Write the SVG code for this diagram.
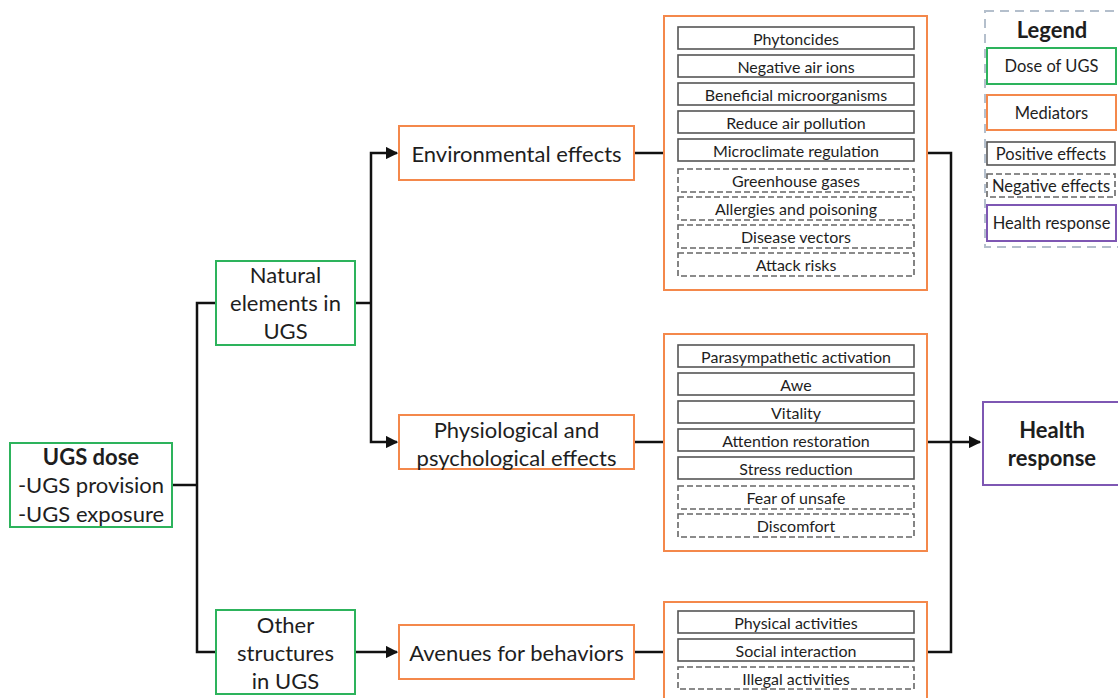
<svg xmlns="http://www.w3.org/2000/svg" width="1118" height="698" viewBox="0 0 1118 698">
  <defs>
    <marker id="arrow" viewBox="0 0 10 10" refX="9" refY="5" markerWidth="5" markerHeight="5" orient="auto" markerUnits="strokeWidth">
      <path d="M0,0 L10,5 L0,10 z" fill="#111"/>
    </marker>
    <style>
      text { font-family: Lato, "Open Sans", "Liberation Sans", sans-serif; fill: #1e1e1e; text-anchor: middle; dominant-baseline: central; }
      .big { font-size: 22px; }
      .small { font-size: 16px; }
      .leg { font-size: 16.5px; }
      .bold { font-weight: bold; }
      .dose { fill: #fff; stroke: #2db35c; stroke-width: 2; }
      .med { fill: #fff; stroke: #f4884b; stroke-width: 2; }
      .health { fill: #fff; stroke: #7e57b3; stroke-width: 2; }
      .pos { fill: #fff; stroke: #555; stroke-width: 1.6; }
      .neg { fill: #fff; stroke: #666; stroke-width: 1.6; stroke-dasharray: 6 3; }
      .wire { fill: none; stroke: #111; stroke-width: 2.5; }
    </style>
  </defs>
  <rect width="1118" height="698" fill="#fff"/>

  <!-- connectors -->
  <g id="connectors">
    <polyline class="wire" points="172,485 197,485"/>
    <polyline class="wire" points="216,303 197,303 197,652 216,652"/>
    <polyline class="wire" points="355,303 371,303"/>
    <polyline class="wire" points="371,303 371,153 397,153" marker-end="url(#arrow)"/>
    <polyline class="wire" points="371,303 371,442 397,442" marker-end="url(#arrow)"/>
    <polyline class="wire" points="355,652 397,652" marker-end="url(#arrow)"/>
    <polyline class="wire" points="634,153 664,153"/>
    <polyline class="wire" points="634,442 664,442"/>
    <polyline class="wire" points="634,652 664,652"/>
    <polyline class="wire" points="927,153 951,153 951,652 927,652"/>
    <polyline class="wire" points="927,442 980,442" marker-end="url(#arrow)"/>
  </g>

  <!-- dose of UGS -->
  <g id="ugs-dose">
    <rect class="dose" x="10" y="443" width="162" height="84"/>
    <text class="big bold" x="91" y="456">UGS dose</text>
    <text class="big" x="91" y="484">-UGS provision</text>
    <text class="big" x="91" y="513">-UGS exposure</text>
  </g>
  <g id="natural-elements">
    <rect class="dose" x="216" y="261" width="139" height="84"/>
    <text class="big" x="285.5" y="274">Natural</text>
    <text class="big" x="285.5" y="302">elements in</text>
    <text class="big" x="285.5" y="330">UGS</text>
  </g>
  <g id="other-structures">
    <rect class="dose" x="216" y="610" width="139" height="84"/>
    <text class="big" x="285.5" y="624">Other</text>
    <text class="big" x="285.5" y="652">structures</text>
    <text class="big" x="285.5" y="680">in UGS</text>
  </g>

  <!-- pathways -->
  <g id="environmental-effects">
    <rect class="med" x="399" y="126" width="235" height="54"/>
    <text class="big" x="516.5" y="153">Environmental effects</text>
  </g>
  <g id="physio-psych-effects">
    <rect class="med" x="399" y="415" width="235" height="54"/>
    <text class="big" x="516.5" y="429">Physiological and</text>
    <text class="big" x="516.5" y="457">psychological effects</text>
  </g>
  <g id="avenues-behaviors">
    <rect class="med" x="399" y="625" width="235" height="54"/>
    <text class="big" x="516.5" y="652">Avenues for behaviors</text>
  </g>

  <!-- environmental mediators -->
  <g id="env-mediators">
    <rect class="med" x="664" y="16" width="263" height="274"/>
    <rect class="pos" x="678" y="27" width="236" height="22"/>
    <text class="small" x="796" y="38">Phytoncides</text>
    <rect class="pos" x="678" y="55" width="236" height="22"/>
    <text class="small" x="796" y="66">Negative air ions</text>
    <rect class="pos" x="678" y="83" width="236" height="22"/>
    <text class="small" x="796" y="94">Beneficial microorganisms</text>
    <rect class="pos" x="678" y="111" width="236" height="22"/>
    <text class="small" x="796" y="122">Reduce air pollution</text>
    <rect class="pos" x="678" y="139" width="236" height="22"/>
    <text class="small" x="796" y="150">Microclimate regulation</text>
    <rect class="neg" x="678" y="169" width="236" height="23"/>
    <text class="small" x="796" y="180.5">Greenhouse gases</text>
    <rect class="neg" x="678" y="197" width="236" height="23"/>
    <text class="small" x="796" y="208.5">Allergies and poisoning</text>
    <rect class="neg" x="678" y="225" width="236" height="23"/>
    <text class="small" x="796" y="236.5">Disease vectors</text>
    <rect class="neg" x="678" y="253" width="236" height="23"/>
    <text class="small" x="796" y="264.5">Attack risks</text>
  </g>

  <!-- physiological / psychological mediators -->
  <g id="physio-mediators">
    <rect class="med" x="664" y="334" width="263" height="217"/>
    <rect class="pos" x="678" y="345" width="236" height="22"/>
    <text class="small" x="796" y="356">Parasympathetic activation</text>
    <rect class="pos" x="678" y="373" width="236" height="22"/>
    <text class="small" x="796" y="384">Awe</text>
    <rect class="pos" x="678" y="401" width="236" height="22"/>
    <text class="small" x="796" y="412">Vitality</text>
    <rect class="pos" x="678" y="429" width="236" height="22"/>
    <text class="small" x="796" y="440">Attention restoration</text>
    <rect class="pos" x="678" y="457" width="236" height="22"/>
    <text class="small" x="796" y="468">Stress reduction</text>
    <rect class="neg" x="678" y="486" width="236" height="23"/>
    <text class="small" x="796" y="497.5">Fear of unsafe</text>
    <rect class="neg" x="678" y="514" width="236" height="23"/>
    <text class="small" x="796" y="525.5">Discomfort</text>
  </g>

  <!-- behavioral mediators -->
  <g id="behavior-mediators">
    <rect class="med" x="664" y="602" width="263" height="104"/>
    <rect class="pos" x="678" y="611" width="236" height="22"/>
    <text class="small" x="796" y="622">Physical activities</text>
    <rect class="pos" x="678" y="639" width="236" height="22"/>
    <text class="small" x="796" y="650">Social interaction</text>
    <rect class="neg" x="678" y="667" width="236" height="22"/>
    <text class="small" x="796" y="678">Illegal activities</text>
  </g>

  <!-- outcome -->
  <g id="health-response">
    <rect class="health" x="983" y="402" width="145" height="83"/>
    <text class="big bold" x="1052" y="429">Health</text>
    <text class="big bold" x="1052" y="457">response</text>
  </g>

  <!-- legend -->
  <g id="legend">
    <rect x="985" y="11" width="140" height="236" fill="#fff" stroke="#b4bfcc" stroke-width="2" stroke-dasharray="9 6"/>
    <text class="big bold" x="1052" y="29">Legend</text>
    <rect class="dose" x="987" y="48" width="129" height="36"/>
    <text class="leg" x="1051.5" y="66">Dose of UGS</text>
    <rect class="med" x="987" y="95" width="129" height="35"/>
    <text class="leg" x="1051.5" y="112.5">Mediators</text>
    <rect class="pos" x="987" y="142" width="128" height="23"/>
    <text class="leg" x="1051" y="153.5">Positive effects</text>
    <rect class="neg" x="987" y="174" width="128" height="23"/>
    <text class="leg" x="1051" y="185.5">Negative effects</text>
    <rect class="health" x="987" y="205" width="129" height="36"/>
    <text class="leg" x="1051.5" y="223">Health response</text>
  </g>
</svg>
